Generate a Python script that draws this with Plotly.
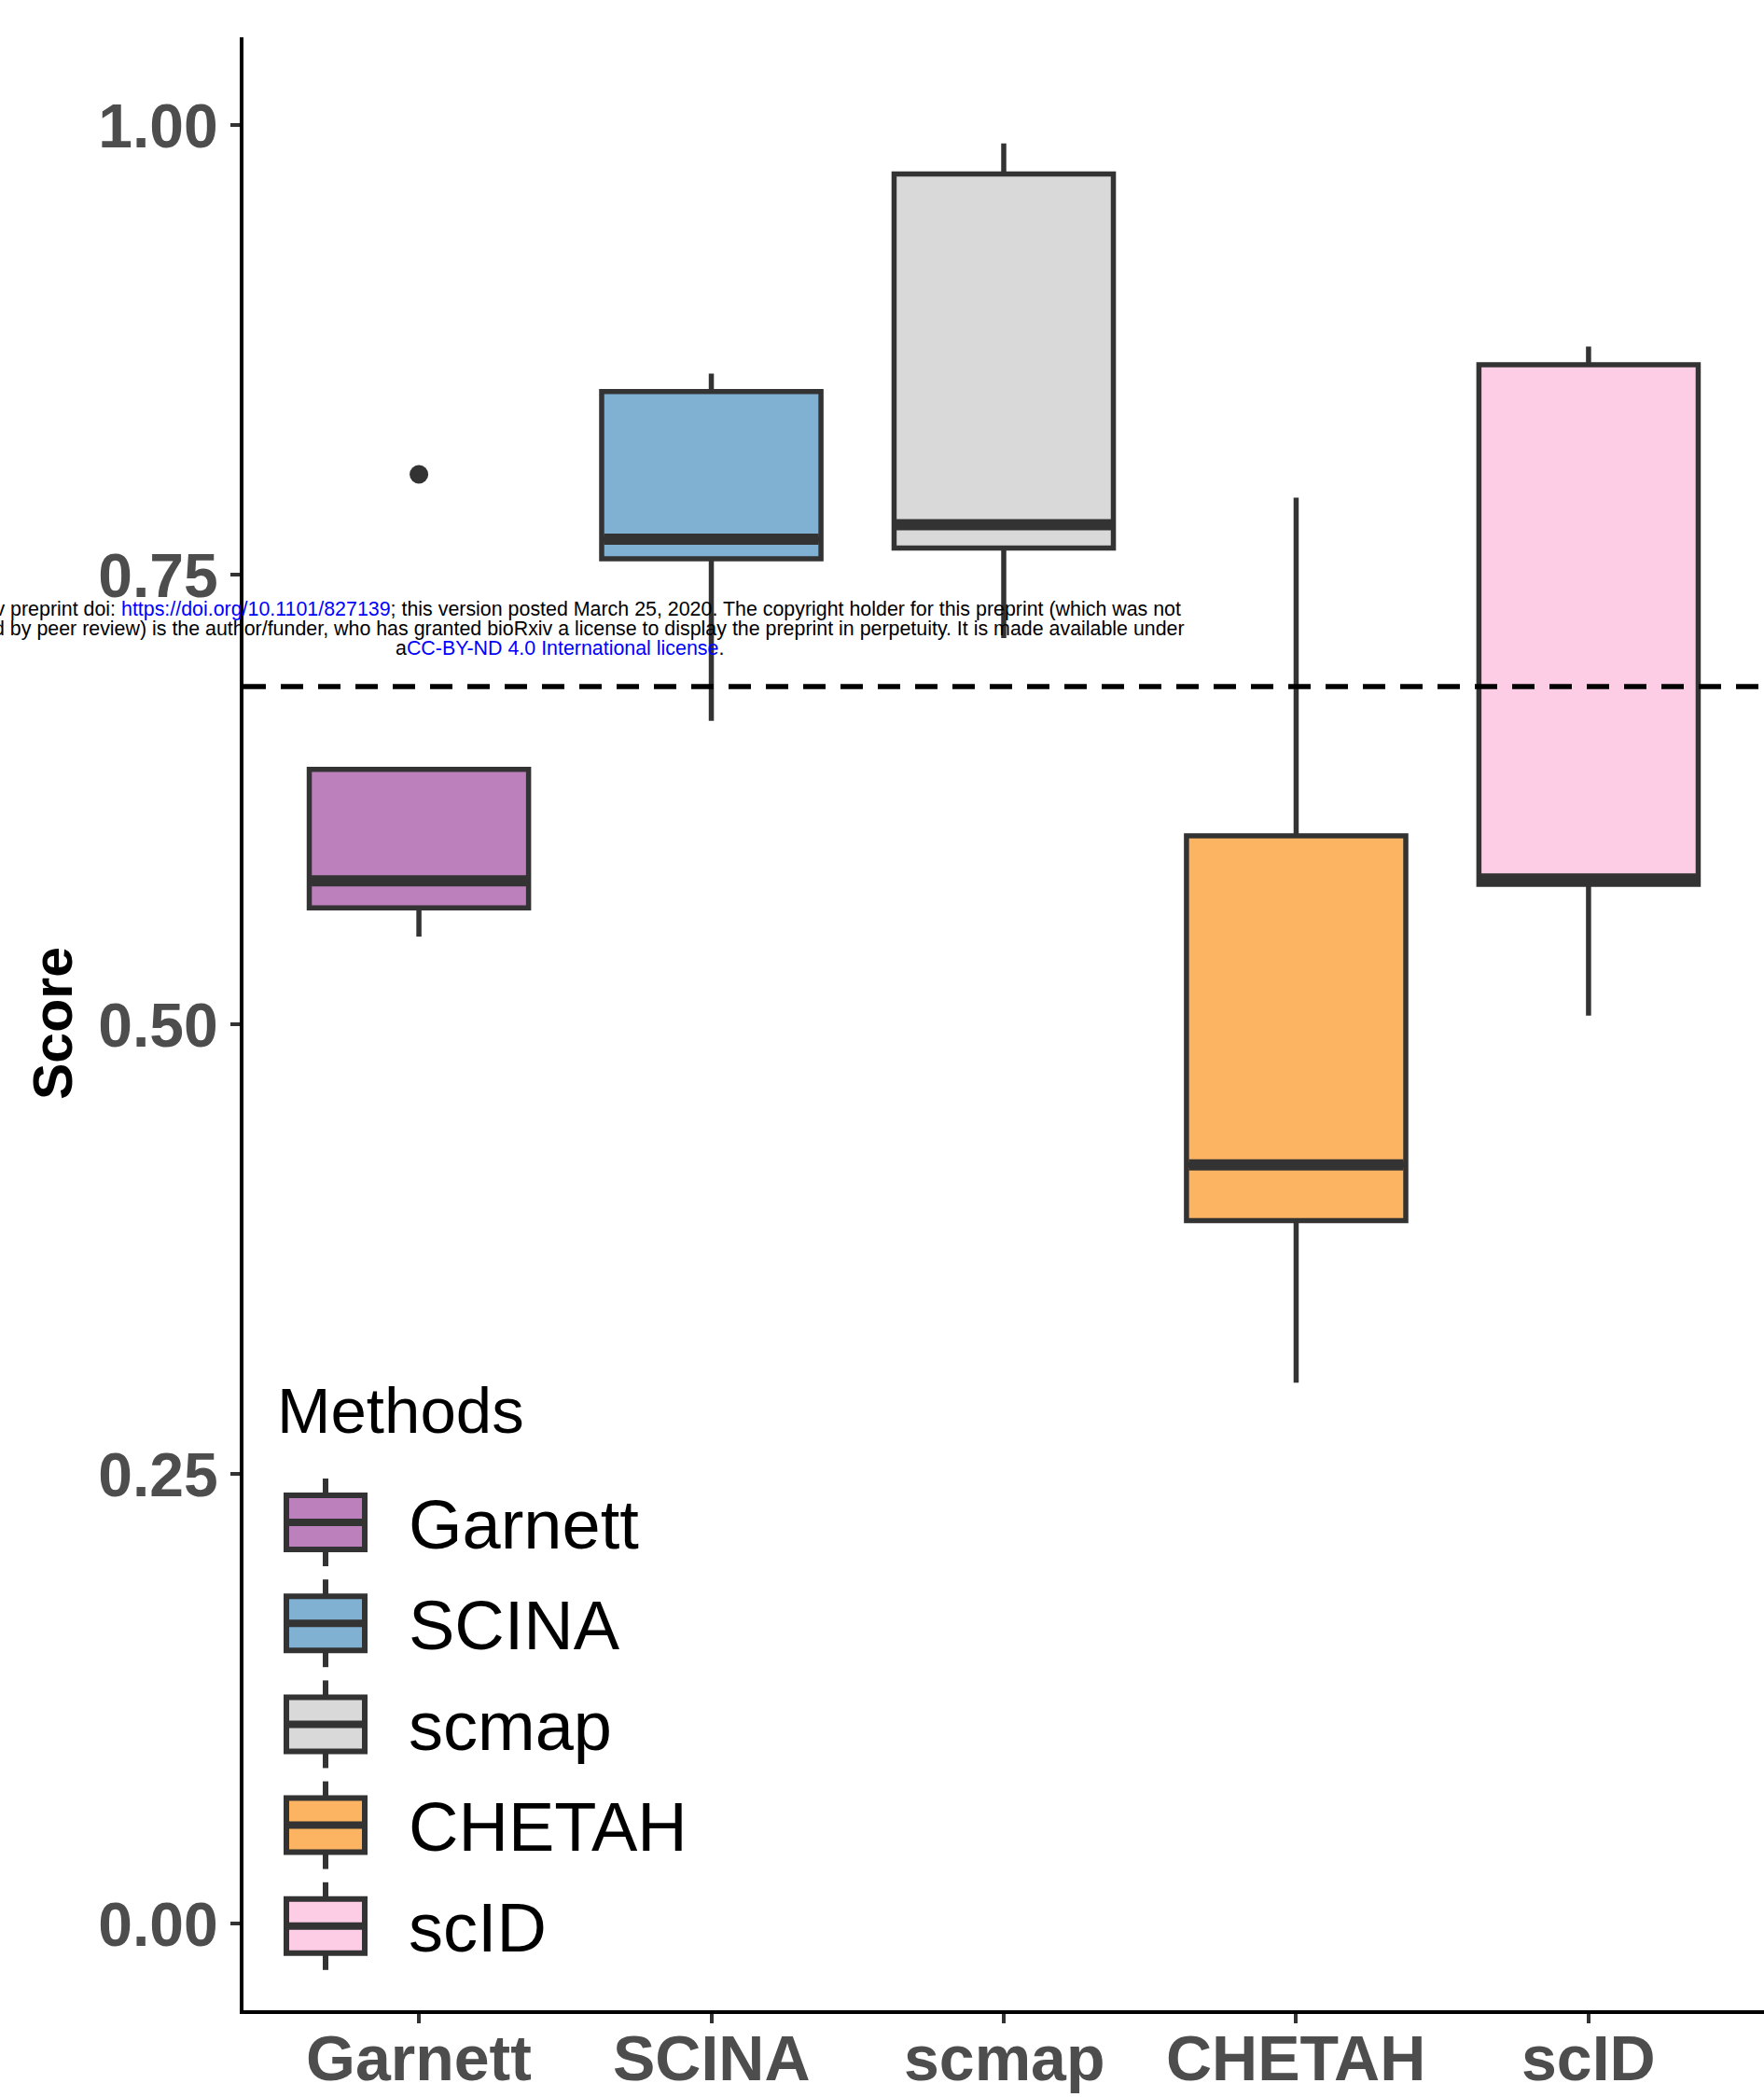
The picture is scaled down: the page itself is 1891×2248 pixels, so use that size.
import plotly.graph_objects as go

# Box statistics per annotation method
methods = ["Garnett", "SCINA", "scmap", "CHETAH", "scID"]
lower_whisker = [0.549, 0.669, 0.715, 0.301, 0.505]
q1 = [0.565, 0.759, 0.765, 0.391, 0.578]
median = [0.580, 0.770, 0.778, 0.422, 0.581]
q3 = [0.642, 0.852, 0.973, 0.605, 0.867]
upper_whisker = [0.642, 0.862, 0.990, 0.793, 0.877]

# Points beyond the whiskers
outlier_method = ["Garnett"]
outlier_score = [0.806]

# Reference threshold
threshold = 0.688

fills = ["#BC80BD", "#80B1D3", "#D9D9D9", "#FDB462", "#FCCDE5"]
y_ticks = [0.0, 0.25, 0.5, 0.75, 1.0]
y_tick_text = ["0.00", "0.25", "0.50", "0.75", "1.00"]

FONT = "Liberation Sans, Arial, sans-serif"
EDGE = "#333333"
TICK_GREY = "#4D4D4D"
W, H = 1891, 2248
L, R, T, B = 261, 0, 40, 93
PW, PH = W - L - R, H - T - B
BOX_W = 0.75


def px(xp):
    return (xp - L) / PW


def py(yp):
    return (H - B - yp) / PH


fig = go.Figure()

for i, m in enumerate(methods):
    fig.add_trace(go.Box(
        x=[i], q1=[q1[i]], median=[median[i]], q3=[q3[i]],
        lowerfence=[lower_whisker[i]], upperfence=[upper_whisker[i]],
        width=BOX_W, whiskerwidth=0, boxpoints=False,
        fillcolor=fills[i], line=dict(color=EDGE, width=5.5),
        name=m, showlegend=False, hoverinfo="skip",
    ))
    # thicker median bar
    fig.add_trace(go.Scatter(
        x=[i - BOX_W / 2 + 0.008, i + BOX_W / 2 - 0.008], y=[median[i], median[i]],
        mode="lines", line=dict(color=EDGE, width=12),
        showlegend=False, hoverinfo="skip",
    ))

fig.add_trace(go.Scatter(
    x=[methods.index(m) for m in outlier_method], y=outlier_score,
    mode="markers", marker=dict(color=EDGE, size=20),
    showlegend=False, hoverinfo="skip",
))

shapes = [dict(
    type="line", xref="paper", x0=0, x1=1, yref="y", y0=threshold, y1=threshold,
    line=dict(color="black", width=5.5, dash="24px,16px"), layer="above",
)]

annotations = []

# Category labels under the x axis
for i, m in enumerate(methods):
    annotations.append(dict(
        xref="x", yref="paper", x=i, y=py(2206), xanchor="center", yanchor="middle",
        text=m, showarrow=False,
        font=dict(family=FONT, size=68, color=TICK_GREY, weight="bold"),
    ))

# Legend drawn as glyphs with labels
leg_x0, leg_x1 = 307, 391
leg_cx = (leg_x0 + leg_x1) / 2
leg_y0, leg_step = 1632, 108.2
annotations.append(dict(
    xref="paper", yref="paper", x=px(295), y=py(1512), xanchor="left", yanchor="middle",
    text="Methods", showarrow=False, font=dict(family=FONT, size=69, color="black"),
))
for i, m in enumerate(methods):
    cy = leg_y0 + i * leg_step
    shapes.append(dict(type="line", xref="paper", yref="paper",
                       x0=px(leg_cx), x1=px(leg_cx), y0=py(cy - 47), y1=py(cy + 47),
                       line=dict(color=EDGE, width=6)))
    shapes.append(dict(type="rect", xref="paper", yref="paper",
                       x0=px(leg_x0), x1=px(leg_x1), y0=py(cy - 29), y1=py(cy + 29),
                       fillcolor=fills[i], line=dict(color=EDGE, width=6)))
    shapes.append(dict(type="line", xref="paper", yref="paper",
                       x0=px(leg_x0), x1=px(leg_x1), y0=py(cy), y1=py(cy),
                       line=dict(color=EDGE, width=8)))
    annotations.append(dict(
        xref="paper", yref="paper", x=px(436), y=py(cy + 2), xanchor="left", yanchor="middle",
        text=m, showarrow=False, font=dict(family=FONT, size=74, color="black"),
    ))

# Y-axis title
annotations.append(dict(
    xref="paper", yref="paper", x=px(57), y=py(1097), xanchor="center", yanchor="middle",
    text="Score", textangle=-90, showarrow=False,
    font=dict(family=FONT, size=59, color="black", weight="bold"),
))

# Preprint header lines
blue = "<span style='color:#0000FF'>{}</span>"
header = [
    ("bioRxiv preprint doi: " + blue.format("https://doi.org/10.1101/827139")
     + "; this version posted March 25, 2020. The copyright holder for this preprint (which was not", 653),
    ("certified by peer review) is the author/funder, who has granted bioRxiv a license to display "
     "the preprint in perpetuity. It is made available under", 674),
    ("a" + blue.format("CC-BY-ND 4.0 International license") + ".", 695),
]
for txt, yy in header:
    annotations.append(dict(
        xref="paper", yref="paper", x=px(600), y=py(yy), xanchor="center", yanchor="middle",
        text=txt, showarrow=False, font=dict(family=FONT, size=21.4, color="black"),
    ))

fig.update_layout(
    width=W, height=H,
    margin=dict(l=L, r=R, t=T, b=B, pad=0, autoexpand=False),
    paper_bgcolor="white", plot_bgcolor="white",
    boxmode="overlay", showlegend=False,
    shapes=shapes, annotations=annotations,
    xaxis=dict(
        range=[-0.6, 4.6], tickvals=list(range(len(methods))), showticklabels=False,
        automargin=False,
        showgrid=False, zeroline=False, showline=True, linecolor="black", linewidth=4,
        ticks="outside", ticklen=10, tickwidth=4, tickcolor=EDGE,
    ),
    yaxis=dict(
        range=[-0.048, 1.049], tickvals=y_ticks, ticktext=y_tick_text,
        automargin=False,
        showgrid=False, zeroline=False, showline=True, linecolor="black", linewidth=4,
        ticks="outside", ticklen=10, tickwidth=4, tickcolor=EDGE,
        tickfont=dict(family=FONT, size=66, color=TICK_GREY, weight="bold"),
    ),
)

fig.write_html("out.html")
